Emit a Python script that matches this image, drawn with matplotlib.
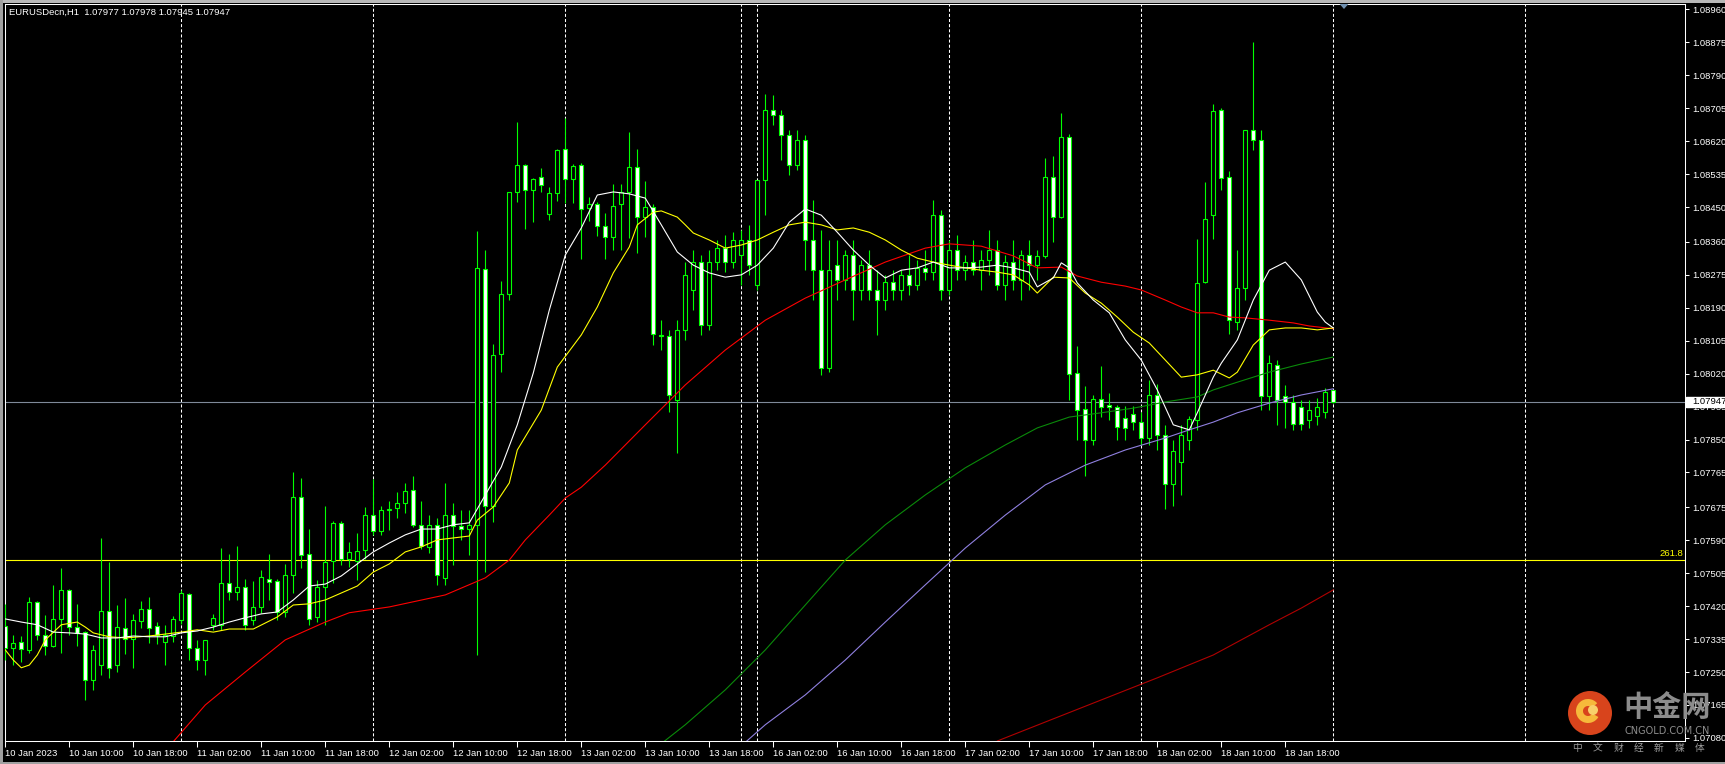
import matplotlib
matplotlib.use("Agg")
import matplotlib.pyplot as plt
import matplotlib.transforms as mtransforms
from matplotlib.patches import Rectangle, Circle, Wedge, Polygon

plt.rcParams['font.family'] = ['Liberation Sans', 'DejaVu Sans']
plt.rcParams['lines.scale_dashes'] = False

# ---------------- data ----------------
title_text = "EURUSDecn,H1  1.07977 1.07978 1.07945 1.07947"

time_label_bars = [0, 8, 16, 24, 32, 40, 48, 56, 64, 72, 80, 88, 96, 104, 112, 120, 128, 136, 144, 152, 160]
time_labels = ["10 Jan 2023", "10 Jan 10:00", "10 Jan 18:00", "11 Jan 02:00", "11 Jan 10:00",
               "11 Jan 18:00", "12 Jan 02:00", "12 Jan 10:00", "12 Jan 18:00", "13 Jan 02:00",
               "13 Jan 10:00", "13 Jan 18:00", "16 Jan 02:00", "16 Jan 10:00", "16 Jan 18:00",
               "17 Jan 02:00", "17 Jan 10:00", "17 Jan 18:00", "18 Jan 02:00", "18 Jan 10:00",
               "18 Jan 18:00"]
day_separator_bars = [22, 46, 70, 92, 94, 118, 142, 166, 190]

price_ticks = [1.08960, 1.08875, 1.08790, 1.08705, 1.08620, 1.08535, 1.08450, 1.08360,
               1.08275, 1.08190, 1.08105, 1.08020, 1.07935, 1.07850, 1.07765, 1.07675,
               1.07590, 1.07505, 1.07420, 1.07335, 1.07250, 1.07165, 1.07080]
price_min, price_max = 1.07072, 1.08974

bid_price = 1.07947
fib_level = 1.07539
fib_label = "261.8"

open_ = [1.07369, 1.07312, 1.07328, 1.07307, 1.07431, 1.07346, 1.07317, 1.07387, 1.07462, 1.07366,
         1.07353, 1.07230, 1.07268, 1.07408, 1.07268, 1.07364, 1.07335, 1.07382, 1.07413, 1.07369,
         1.07328, 1.07343, 1.07384, 1.07451, 1.07312, 1.07281, 1.07372, 1.07372, 1.07480, 1.07457,
         1.07470, 1.07384, 1.07418, 1.07490, 1.07485, 1.07405, 1.07500, 1.07702, 1.07555, 1.07392,
         1.07470, 1.07537, 1.07635, 1.07542, 1.07537, 1.07565, 1.07655, 1.07614, 1.07668, 1.07673,
         1.07686, 1.07720, 1.07630, 1.07573, 1.07630, 1.07493, 1.07655, 1.07627, 1.07619, 1.07630,
         1.08290, 1.07679, 1.08071, 1.08226, 1.08489, 1.08558, 1.08494, 1.08527, 1.08432, 1.08486,
         1.08600, 1.08522, 1.08558, 1.08447, 1.08458, 1.08401, 1.08373, 1.08458, 1.08489, 1.08553,
         1.08424, 1.08450, 1.08120, 1.08117, 1.07952, 1.08133, 1.08236, 1.08308, 1.08146, 1.08308,
         1.08344, 1.08308, 1.08326, 1.08365, 1.08249, 1.08520, 1.08700, 1.08687, 1.08636, 1.08558,
         1.08623, 1.08365, 1.08287, 1.08035, 1.08300, 1.08262, 1.08326, 1.08236, 1.08300, 1.08236,
         1.08210, 1.08256, 1.08236, 1.08275, 1.08249, 1.08293, 1.08282, 1.08429, 1.08236, 1.08339,
         1.08287, 1.08308, 1.08287, 1.08313, 1.08339, 1.08249, 1.08308, 1.08262, 1.08326, 1.08300,
         1.08324, 1.08527, 1.08424, 1.08630, 1.08022, 1.07929, 1.07849, 1.07955, 1.07939, 1.07934,
         1.07906, 1.07916, 1.07895, 1.07854, 1.07965, 1.07862, 1.07735, 1.07792, 1.07849, 1.07900,
         1.08256, 1.08429, 1.08700, 1.08527, 1.08153, 1.08241, 1.08649, 1.08623, 1.07962, 1.08042,
         1.07962, 1.07947, 1.07934, 1.07900, 1.07911, 1.07921, 1.07977]
high = [1.07426, 1.07346, 1.07343, 1.07444, 1.07433, 1.07397, 1.07475, 1.07519, 1.07464, 1.07426,
        1.07356, 1.07320, 1.07596, 1.07534, 1.07423, 1.07441, 1.07400, 1.07433, 1.07444, 1.07379,
        1.07372, 1.07395, 1.07462, 1.07454, 1.07333, 1.07333, 1.07400, 1.07570, 1.07555, 1.07575,
        1.07490, 1.07485, 1.07513, 1.07555, 1.07490, 1.07529, 1.07766, 1.07751, 1.07619, 1.07488,
        1.07679, 1.07640, 1.07640, 1.07586, 1.07609, 1.07676, 1.07748, 1.07679, 1.07691, 1.07715,
        1.07738, 1.07756, 1.07691, 1.07655, 1.07648, 1.07738, 1.07686, 1.07668, 1.07668, 1.08388,
        1.08339, 1.08097, 1.08259, 1.08231, 1.08669, 1.08561, 1.08525, 1.08551, 1.08502, 1.08600,
        1.08680, 1.08561, 1.08564, 1.08476, 1.08463, 1.08435, 1.08509, 1.08509, 1.08643, 1.08600,
        1.08517, 1.08458, 1.08158, 1.08133, 1.08158, 1.08308, 1.08339, 1.08326, 1.08339, 1.08365,
        1.08378, 1.08385, 1.08391, 1.08404, 1.08365, 1.08742, 1.08739, 1.08700, 1.08649, 1.08649,
        1.08636, 1.08468, 1.08391, 1.08365, 1.08365, 1.08339, 1.08365, 1.08313, 1.08339, 1.08287,
        1.08275, 1.08287, 1.08287, 1.08326, 1.08313, 1.08339, 1.08468, 1.08442, 1.08365, 1.08378,
        1.08326, 1.08365, 1.08339, 1.08391, 1.08365, 1.08326, 1.08365, 1.08339, 1.08365, 1.08339,
        1.08576, 1.08582, 1.08692, 1.08638, 1.08091, 1.07988, 1.07965, 1.08040, 1.07970, 1.07939,
        1.07937, 1.07937, 1.07921, 1.08004, 1.07993, 1.07888, 1.07849, 1.07888, 1.07911, 1.08367,
        1.08514, 1.08716, 1.08705, 1.08543, 1.08339, 1.08468, 1.08876, 1.08649, 1.08068, 1.08055,
        1.07991, 1.07965, 1.07952, 1.07952, 1.07957, 1.07983, 1.07978]
low = [1.07281, 1.07268, 1.07276, 1.07299, 1.07333, 1.07294, 1.07315, 1.07299, 1.07346, 1.07317,
       1.07178, 1.07204, 1.07242, 1.07235, 1.07250, 1.07297, 1.07261, 1.07364, 1.07325, 1.07323,
       1.07268, 1.07328, 1.07374, 1.07281, 1.07255, 1.07242, 1.07359, 1.07359, 1.07436, 1.07436,
       1.07359, 1.07372, 1.07403, 1.07436, 1.07384, 1.07392, 1.07454, 1.07519, 1.07372, 1.07379,
       1.07372, 1.07480, 1.07526, 1.07521, 1.07488, 1.07542, 1.07604, 1.07604, 1.07617, 1.07648,
       1.07661, 1.07624, 1.07568, 1.07557, 1.07475, 1.07475, 1.07526, 1.07591, 1.07552, 1.07294,
       1.07508, 1.07637, 1.08024, 1.08210, 1.08463, 1.08393, 1.08411, 1.08489, 1.08416, 1.08465,
       1.08460, 1.08460, 1.08316, 1.08414, 1.08375, 1.08316, 1.08339, 1.08339, 1.08370, 1.08331,
       1.08373, 1.08094, 1.08081, 1.07921, 1.07815, 1.08107, 1.08184, 1.08120, 1.08133, 1.08287,
       1.08282, 1.08293, 1.08249, 1.08275, 1.08236, 1.08429, 1.08662, 1.08571, 1.08533, 1.08545,
       1.08287, 1.08210, 1.08017, 1.08024, 1.08210, 1.08236, 1.08158, 1.08210, 1.08210, 1.08120,
       1.08184, 1.08210, 1.08210, 1.08223, 1.08236, 1.08262, 1.08262, 1.08210, 1.08223, 1.08262,
       1.08262, 1.08275, 1.08236, 1.08275, 1.08236, 1.08210, 1.08236, 1.08210, 1.08236, 1.08262,
       1.08318, 1.08360, 1.08422, 1.07952, 1.07849, 1.07756, 1.07836, 1.07908, 1.07900, 1.07849,
       1.07849, 1.07875, 1.07836, 1.07836, 1.07823, 1.07671, 1.07679, 1.07707, 1.07823, 1.07875,
       1.08254, 1.08367, 1.08494, 1.08122, 1.08133, 1.08210, 1.08597, 1.07926, 1.07926, 1.07888,
       1.07880, 1.07875, 1.07875, 1.07880, 1.07888, 1.07906, 1.07945]
close = [1.07312, 1.07325, 1.07310, 1.07431, 1.07346, 1.07317, 1.07387, 1.07462, 1.07366, 1.07351,
         1.07230, 1.07307, 1.07408, 1.07261, 1.07366, 1.07335, 1.07384, 1.07413, 1.07364, 1.07346,
         1.07346, 1.07387, 1.07454, 1.07312, 1.07281, 1.07333, 1.07390, 1.07480, 1.07457, 1.07470,
         1.07372, 1.07418, 1.07495, 1.07482, 1.07405, 1.07500, 1.07702, 1.07552, 1.07387, 1.07470,
         1.07534, 1.07635, 1.07542, 1.07560, 1.07562, 1.07655, 1.07614, 1.07668, 1.07671, 1.07686,
         1.07717, 1.07630, 1.07575, 1.07630, 1.07500, 1.07655, 1.07627, 1.07619, 1.07630, 1.08293,
         1.07679, 1.08068, 1.08226, 1.08489, 1.08558, 1.08494, 1.08522, 1.08507, 1.08486, 1.08597,
         1.08522, 1.08556, 1.08445, 1.08458, 1.08401, 1.08373, 1.08453, 1.08489, 1.08553, 1.08424,
         1.08450, 1.08122, 1.08117, 1.07965, 1.08133, 1.08275, 1.08308, 1.08146, 1.08308, 1.08344,
         1.08308, 1.08365, 1.08365, 1.08300, 1.08520, 1.08700, 1.08687, 1.08636, 1.08558, 1.08623,
         1.08365, 1.08287, 1.08035, 1.08287, 1.08262, 1.08326, 1.08236, 1.08300, 1.08236, 1.08210,
         1.08256, 1.08236, 1.08275, 1.08249, 1.08293, 1.08282, 1.08429, 1.08236, 1.08339, 1.08287,
         1.08308, 1.08287, 1.08313, 1.08339, 1.08249, 1.08308, 1.08262, 1.08326, 1.08300, 1.08324,
         1.08527, 1.08424, 1.08630, 1.08019, 1.07926, 1.07849, 1.07955, 1.07934, 1.07934, 1.07882,
         1.07880, 1.07895, 1.07854, 1.07965, 1.07862, 1.07735, 1.07820, 1.07862, 1.07903, 1.08254,
         1.08419, 1.08698, 1.08525, 1.08158, 1.08241, 1.08649, 1.08623, 1.07962, 1.08047, 1.07952,
         1.07947, 1.07890, 1.07890, 1.07926, 1.07934, 1.07973, 1.07947]

# moving averages (value read at given bars)
ma_white_bars = [0, 2, 4, 6, 8, 10, 12, 14, 16, 18, 20, 22, 24, 26, 28, 30, 32, 34, 36, 38, 40, 42, 44, 46,
                 48, 50, 52, 54, 56, 58, 60, 62, 64, 66, 68, 70, 72, 74, 76, 78, 80, 82, 84, 86, 88, 90,
                 92, 94, 96, 98, 100, 102, 104, 106, 108, 110, 112, 114, 116, 118, 120, 122, 124, 126,
                 128, 129, 131, 132, 133, 134, 136, 138, 140, 142, 144, 146, 148, 149, 151, 152, 154,
                 156, 158, 160, 162, 164, 165, 166]
ma_white = [1.07387, 1.07379, 1.07372, 1.07353, 1.07351, 1.07348, 1.07338, 1.07338, 1.07343, 1.07341,
            1.07341, 1.07351, 1.07356, 1.07366, 1.07379, 1.07390, 1.07400, 1.07405, 1.07436, 1.07472,
            1.07477, 1.07498, 1.07529, 1.07560, 1.07583, 1.07604, 1.07619, 1.07619, 1.07630, 1.07635,
            1.07707, 1.07779, 1.07888, 1.08022, 1.08184, 1.08326, 1.08396, 1.08481, 1.08489, 1.08484,
            1.08473, 1.08404, 1.08334, 1.08300, 1.08280, 1.08269, 1.08275, 1.08300, 1.08344, 1.08411,
            1.08445, 1.08429, 1.08385, 1.08339, 1.08300, 1.08267, 1.08287, 1.08293, 1.08308, 1.08293,
            1.08293, 1.08295, 1.08300, 1.08293, 1.08282, 1.08244, 1.08267, 1.08306, 1.08293, 1.08254,
            1.08210, 1.08177, 1.08107, 1.08055, 1.07978, 1.07888, 1.07875, 1.07919, 1.08011, 1.08047,
            1.08107, 1.08210, 1.08287, 1.08308, 1.08262, 1.08179, 1.08153, 1.08138]
ma_yellow_bars = [0, 1, 2, 3, 4, 5, 7, 9, 10, 11, 13, 15, 18, 20, 22, 24, 26, 28, 31, 34, 36, 38, 40, 42,
                  44, 46, 48, 50, 52, 54, 56, 58, 59, 61, 63, 64, 67, 69, 72, 74, 76, 78, 79, 81, 82, 84,
                  85, 86, 88, 90, 92, 94, 96, 98, 100, 102, 104, 106, 108, 110, 112, 114, 116, 118, 120,
                  122, 124, 126, 128, 129, 131, 133, 135, 137, 139, 141, 143, 145, 147, 149, 151, 153,
                  154, 156, 158, 160, 162, 164, 166]
ma_yellow = [1.07307, 1.07281, 1.07261, 1.07268, 1.07294, 1.07333, 1.07372, 1.07379, 1.07366, 1.07351,
             1.07341, 1.07338, 1.07343, 1.07348, 1.07353, 1.07359, 1.07353, 1.07361, 1.07361, 1.07392,
             1.07423, 1.07426, 1.07436, 1.07454, 1.07472, 1.07508, 1.07529, 1.07560, 1.07573, 1.07591,
             1.07596, 1.07601, 1.07642, 1.07676, 1.07738, 1.07823, 1.07926, 1.08037, 1.08120, 1.08192,
             1.08280, 1.08347, 1.08404, 1.08437, 1.08440, 1.08424, 1.08404, 1.08383, 1.08365, 1.08344,
             1.08352, 1.08365, 1.08385, 1.08404, 1.08411, 1.08404, 1.08391, 1.08396, 1.08385, 1.08365,
             1.08339, 1.08318, 1.08308, 1.08300, 1.08293, 1.08287, 1.08282, 1.08275, 1.08249, 1.08228,
             1.08269, 1.08267, 1.08228, 1.08202, 1.08166, 1.08127, 1.08099, 1.08055, 1.08011, 1.08017,
             1.08029, 1.08009, 1.08024, 1.08094, 1.08133, 1.08138, 1.08138, 1.08133, 1.08138]
ma_red_bars = [19, 25, 30, 35, 40, 43, 48, 55, 60, 63, 65, 68, 70, 72, 75, 80, 85, 90, 95, 100, 105, 110,
               115, 118, 122, 126, 129, 132, 134, 137, 140, 142, 145, 147, 149, 151, 153, 155, 158, 161,
               163, 166]
ma_red = [1.07023, 1.07165, 1.07250, 1.07333, 1.07379, 1.07403, 1.07418, 1.07449, 1.07493, 1.07539,
          1.07591, 1.07655, 1.07699, 1.07727, 1.07784, 1.07888, 1.07991, 1.08081, 1.08158, 1.08215,
          1.08262, 1.08308, 1.08344, 1.08355, 1.08349, 1.08324, 1.08293, 1.08295, 1.08272, 1.08256,
          1.08246, 1.08236, 1.08210, 1.08192, 1.08177, 1.08177, 1.08166, 1.08164, 1.08158, 1.08151,
          1.08143, 1.08136]
ma_green_bars = [81, 85, 90, 95, 100, 105, 110, 115, 120, 125, 129, 133, 137, 141, 145, 149, 151, 154,
                 158, 162, 166]
ma_green = [1.07049, 1.07114, 1.07204, 1.07307, 1.07423, 1.07539, 1.07630, 1.07707, 1.07777, 1.07836,
            1.07880, 1.07908, 1.07919, 1.07931, 1.07947, 1.07960, 1.07978, 1.07998, 1.08024, 1.08045,
            1.08063]
ma_purple_bars = [90, 95, 100, 105, 110, 115, 120, 125, 130, 135, 140, 145, 148, 151, 154, 158, 162, 166]
ma_purple = [1.07023, 1.07114, 1.07191, 1.07281, 1.07379, 1.07475, 1.07570, 1.07655, 1.07733, 1.07784,
             1.07823, 1.07854, 1.07875, 1.07895, 1.07919, 1.07944, 1.07965, 1.07981]
ma_darkred_bars = [122, 124, 130, 137, 144, 151, 158, 162, 166]
ma_darkred = [1.07020, 1.07072, 1.07121, 1.07178, 1.07235, 1.07294, 1.07372, 1.07415, 1.07462]

# ---------------- figure ----------------
W, H = 1725, 764
fig = plt.figure(figsize=(W / 100, H / 100), dpi=100)
fig.patch.set_facecolor('black')

L, R, T, B = 4.5, 1685.0, 4.0, 741.0
ax = fig.add_axes([L / W, (H - B) / H, (R - L) / W, (B - T) / H])
ax.set_facecolor('black')
bar_px = 8.0
x0 = (L - 5.3) / bar_px
x1 = x0 + (R - L) / bar_px
ax.set_xlim(x0, x1)
ax.set_ylim(price_min, price_max)
for s in ax.spines.values():
    s.set_color('white')
    s.set_linewidth(0.75)

TXT = 6.8
ax.yaxis.tick_right()
ax.set_yticks(price_ticks)
ax.set_yticklabels([f"{v:.5f}" for v in price_ticks])
ax.tick_params(axis='y', colors='white', length=3, width=0.75, pad=2.5, labelsize=TXT)
ax.set_xticks(time_label_bars)
ax.set_xticklabels(time_labels, ha='left')
ax.tick_params(axis='x', colors='white', length=4, width=0.75, pad=1.5, labelsize=TXT)
for lab in ax.get_xticklabels():
    lab.set_horizontalalignment('left')

# day separators
for b in day_separator_bars:
    ax.axvline(b, color='white', lw=0.75, ls=(0, (2.2, 1.5)), zorder=1)

# horizontal levels
ax.axhline(fib_level, color='#ffff00', lw=0.8, zorder=2)
ax.axhline(bid_price, color='#7f8a99', lw=0.8, zorder=2)
px_per_price = (B - T) / (price_max - price_min)
blend = mtransforms.blended_transform_factory(ax.transAxes, ax.transData)
ax.text((1683 - L) / (R - L), fib_level + 7 / px_per_price, fib_label, transform=blend,
        ha='right', va='center', color='#ffff00', fontsize=TXT, zorder=5)

# candles
bars = list(range(len(close)))
ax.vlines(bars, low, high, color='#00ff00', lw=0.8, zorder=3)
for i in bars:
    o, c = open_[i], close[i]
    bottom = min(o, c)
    h = abs(c - o)
    fc = 'black' if c > o else 'white'
    ax.add_patch(Rectangle((i - 0.25, bottom), 0.5, h, facecolor=fc, edgecolor='#00ff00',
                           lw=0.8, zorder=4))

# moving averages
ax.plot(ma_darkred_bars, ma_darkred, color='#b00000', lw=0.8, zorder=6)
ax.plot(ma_purple_bars, ma_purple, color='#9080e0', lw=0.8, zorder=6)
ax.plot(ma_green_bars, ma_green, color='#0a8a0a', lw=0.8, zorder=6)
ax.plot(ma_red_bars, ma_red, color='#ff0000', lw=0.8, zorder=6)
ax.plot(ma_yellow_bars, ma_yellow, color='#ffff00', lw=0.8, zorder=6)
ax.plot(ma_white_bars, ma_white, color='white', lw=0.8, zorder=7)

# bid label box on the price scale
bh = 10 / px_per_price
ax.add_patch(Rectangle(((1686 - L) / (R - L), bid_price - bh / 2), 39 / (R - L), bh,
                       transform=blend, facecolor='white', edgecolor='white', clip_on=False,
                       zorder=20))
ax.text((1692 - L) / (R - L), bid_price, f"{bid_price:.5f}", transform=blend, ha='left',
        va='center', color='black', fontsize=TXT, clip_on=False, zorder=21)

# chart-shift marker
xm = (1344 - 5.3) / bar_px
ax.add_patch(Polygon([[xm - 0.55, price_max], [xm + 0.55, price_max],
                      [xm, price_max - 5 / px_per_price]], closed=True,
                     facecolor='#7090b0', edgecolor='none', clip_on=False, zorder=8))

# title
fig.text(9.3 / W, 1 - 12.7 / H, title_text, ha='left', va='center', color='white', fontsize=TXT)

# window borders
fig.patches.append(Rectangle((0, 1 - 2.5 / H), 1, 2.5 / H, transform=fig.transFigure,
                             facecolor='#b8b8b8', edgecolor='none'))
fig.patches.append(Rectangle((0, 0), 3.0 / W, 1, transform=fig.transFigure,
                             facecolor='#a0a0a0', edgecolor='none'))
fig.patches.append(Rectangle((0, 0), 1, 2.0 / H, transform=fig.transFigure,
                             facecolor='#a0a0a0', edgecolor='none'))

# watermark
cx, cy, r = 1590 / 100, (H - 713) / 100, 0.22
fig.patches.append(Circle((cx, cy), r, transform=fig.dpi_scale_trans, facecolor='#d8441c',
                          edgecolor='none', zorder=30))
fig.patches.append(Wedge((cx - 0.02, cy + 0.02), 0.12, 40, 330, width=0.07,
                         transform=fig.dpi_scale_trans, facecolor='#f6b93b', edgecolor='none',
                         zorder=31))
fig.patches.append(Circle((cx + 0.03, cy + 0.03), 0.05, transform=fig.dpi_scale_trans,
                          facecolor='#f8d06a', edgecolor='none', zorder=31))
cjk = ['Noto Sans CJK SC', 'DejaVu Sans']
fig.text(1667 / W, 1 - 707 / H, "中金网", ha='center', va='center', color='#8c8c8c',
         fontsize=21, fontweight='bold', family=cjk, zorder=32)
fig.text(1667 / W, 1 - 731 / H, "CNGOLD.COM.CN", ha='center', va='center', color='#8c8c8c',
         fontsize=7, family=['DejaVu Sans'], zorder=32)
tag = "中文财经新媒体"
for k, ch in enumerate(tag):
    fig.text((1577 + k * 20.5) / W, 1 - 748 / H, ch, ha='center', va='center', color='#9a9a9a',
             fontsize=7, family=cjk, zorder=32)

fig.savefig('out.png', dpi=100, facecolor='black')
